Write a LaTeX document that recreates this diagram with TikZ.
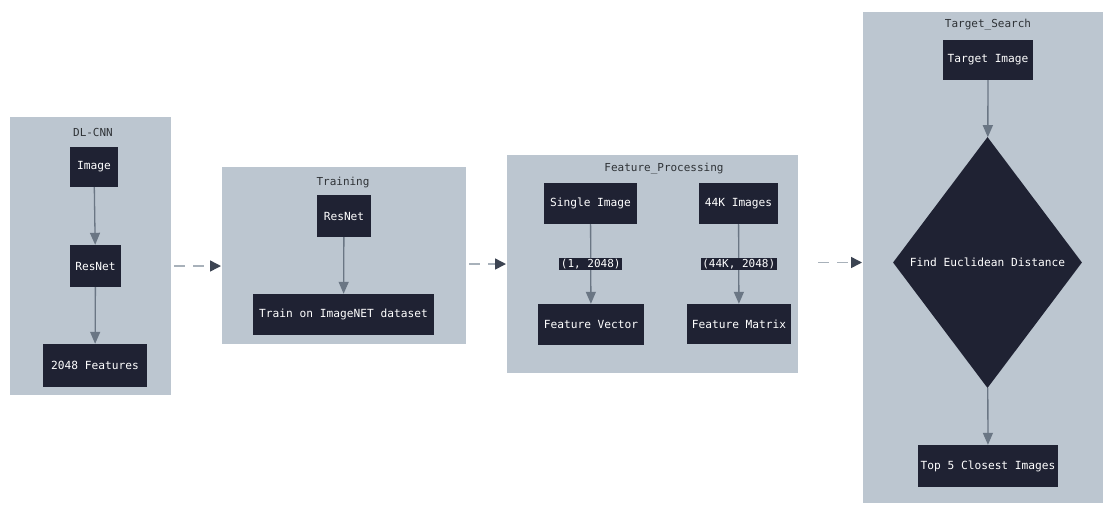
\documentclass[tikz,border=0pt]{standalone}
\usepackage{fontspec}
\setmonofont{DejaVu Sans Mono}
\usetikzlibrary{shapes.geometric,arrows.meta,calc}
\definecolor{clusterfill}{HTML}{BCC6D0}
\definecolor{nodefill}{HTML}{1F2233}
\definecolor{edgecol}{HTML}{6A7684}
\definecolor{dashcol}{HTML}{A8B1BA}
\definecolor{tipcol}{HTML}{3C4452}
\definecolor{titlecol}{HTML}{2E3236}
\tikzset{
  cluster/.style={fill=clusterfill, draw=none, inner sep=0pt, anchor=north west},
  ctitle/.style={font=\ttfamily\fontsize{11}{13}\selectfont, text=titlecol, inner sep=0pt},
  box/.style={rectangle, fill=nodefill, draw=none, text=white, inner sep=0pt,
    font=\ttfamily\fontsize{11.2}{13}\selectfont},
  elabel/.style={fill=nodefill, text=white, inner sep=1.5pt,
    font=\ttfamily\fontsize{11}{13}\selectfont},
  flow/.style={draw=edgecol, line width=1.3pt, -{Triangle[width=10pt,length=12pt,color=edgecol]}},
  link/.style={draw=dashcol, line width=1.5pt, dash pattern=on 11pt off 8pt,
    -{Triangle[width=11pt,length=11pt,color=tipcol]}, shorten >=1pt}
}
\begin{document}
\begin{tikzpicture}[x=1pt,y=-1pt]
\useasboundingbox[fill=white] (0,0) rectangle (1105,507);
% clusters
\node[cluster, minimum width=161pt, minimum height=278pt] (c1) at (10,117) {};
\node[cluster, minimum width=244pt, minimum height=177pt] (c2) at (222,167) {};
\node[cluster, minimum width=291pt, minimum height=218pt] (c3) at (507,155) {};
\node[cluster, minimum width=240pt, minimum height=491pt] (c4) at (863,12) {};
% titles
\node[ctitle] (t1) at (93,132) {DL-CNN};
\node[ctitle] (t2) at (343,182) {Training};
\node[ctitle] (t3) at (664,169) {Feature\_Processing};
\node[ctitle] (t4) at (988,25) {Target\_Search};
% DL-CNN
\node[box, minimum width=48pt, minimum height=40pt] (img) at (94,167) {Image};
\node[box, minimum width=51pt, minimum height=42pt] (res1) at (95.5,266) {ResNet};
\node[box, minimum width=104pt, minimum height=43pt] (feat) at (95,365.5) {2048 Features};
% Training
\node[box, minimum width=54pt, minimum height=42pt] (res2) at (344,216) {ResNet};
\node[box, minimum width=181pt, minimum height=41pt] (train) at (343.5,314.5) {Train on ImageNET dataset};
% Feature processing
\node[box, minimum width=93pt, minimum height=41pt] (single) at (590.5,203.5) {Single Image};
\node[box, minimum width=79pt, minimum height=41pt] (k44) at (738.5,203.5) {44K Images};
\node[box, minimum width=106pt, minimum height=41pt] (fvec) at (591,324.5) {Feature Vector};
\node[box, minimum width=104pt, minimum height=40pt] (fmat) at (739,324) {Feature Matrix};
% Target search
\node[box, minimum width=90pt, minimum height=40pt] (timg) at (988,60) {Target Image};
\node[box, shape=diamond, minimum width=189pt, minimum height=251pt] (diam) at (987.5,262.5) {Find Euclidean Distance};
\node[box, minimum width=140pt, minimum height=42pt] (top5) at (988,466) {Top 5 Closest Images};
% edges
\draw[flow] (img) -- (res1);
\draw[flow] (res1) -- (feat);
\draw[flow] (res2) -- (train);
\draw[flow] (single) -- node[elabel] (l1) {(1, 2048)} (fvec);
\draw[flow] (k44) -- node[elabel] (l2) {(44K, 2048)} (fmat);
\draw[flow] (timg) -- (diam);
\draw[flow] (diam) -- (top5);
% inter-cluster links
\draw[link] ($(c1.east|-res1)+(3,0)$) -- (c2.west|-res1);
\draw[link] ($(c2.east|-l1)+(3,0)$) -- (c3.west|-l1);
\draw[link] ($(c3.east|-diam)+(20,0)$) -- (c4.west|-diam);
\end{tikzpicture}
\end{document}
